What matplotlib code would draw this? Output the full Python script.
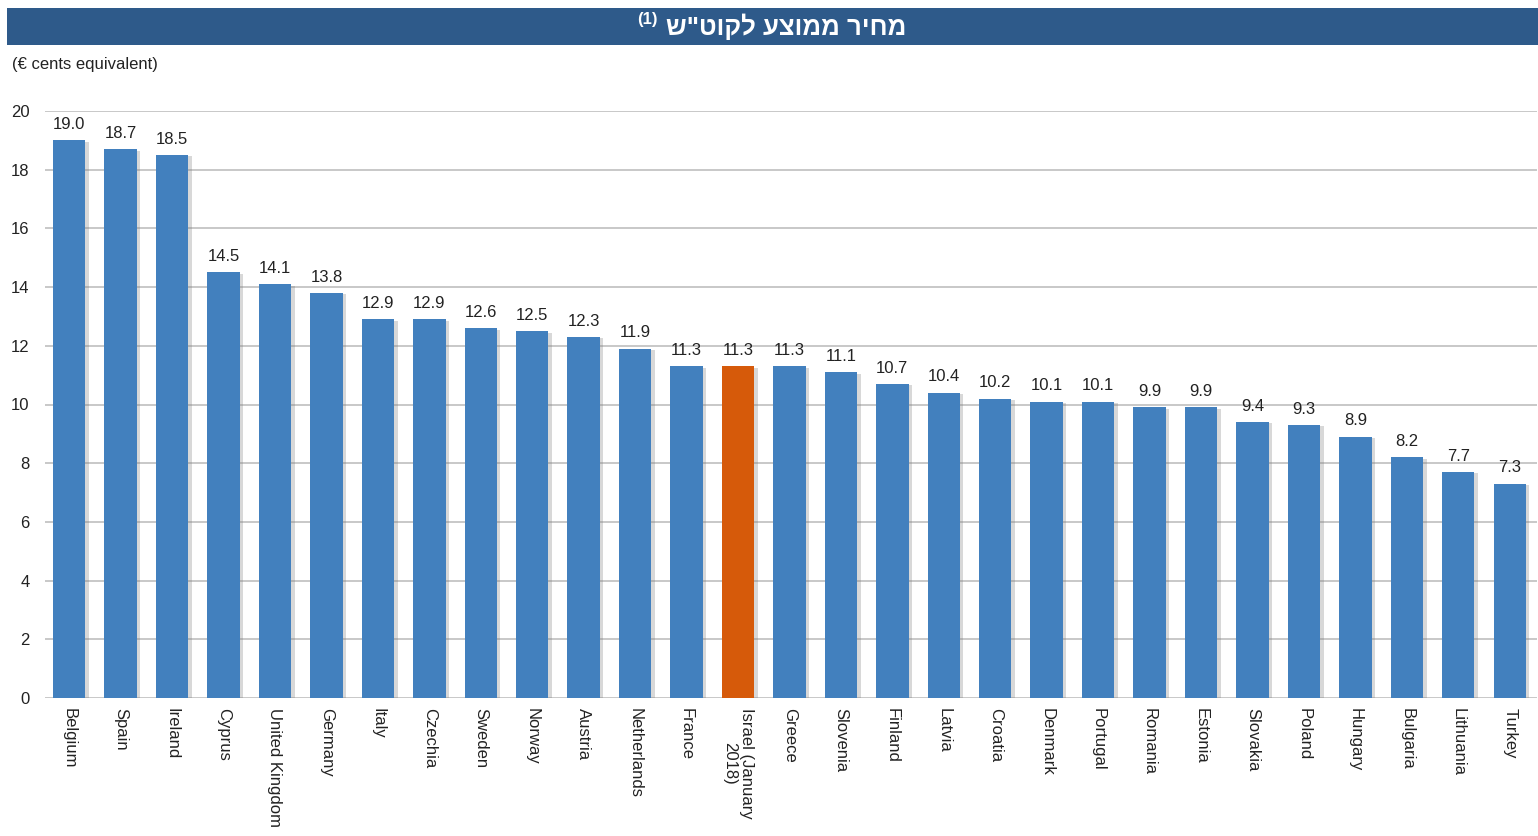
import numpy as np
import matplotlib.pyplot as plt
import matplotlib.patheffects as pe
from matplotlib.patches import Rectangle

plt.rcParams['font.family'] = ['Liberation Sans', 'DejaVu Sans']

# data
countries = ['Belgium', 'Spain', 'Ireland', 'Cyprus', 'United Kingdom', 'Germany',
             'Italy', 'Czechia', 'Sweden', 'Norway', 'Austria', 'Netherlands',
             'France', 'Israel (January\n2018)', 'Greece', 'Slovenia', 'Finland',
             'Latvia', 'Croatia', 'Denmark', 'Portugal', 'Romania', 'Estonia',
             'Slovakia', 'Poland', 'Hungary', 'Bulgaria', 'Lithuania', 'Turkey']
prices = [19.0, 18.7, 18.5, 14.5, 14.1, 13.8, 12.9, 12.9, 12.6, 12.5, 12.3, 11.9,
          11.3, 11.3, 11.3, 11.1, 10.7, 10.4, 10.2, 10.1, 10.1, 9.9, 9.9, 9.4,
          9.3, 8.9, 8.2, 7.7, 7.3]
highlight = 'Israel (January\n2018)'
yticks = [0, 2, 4, 6, 8, 10, 12, 14, 16, 18, 20]

title_he = 'מחיר ממוצע לקוט"ש'
subtitle = '(€ cents equivalent)'

blue = '#4280BE'
orange = '#D65A0A'
txt = '#222222'
fs = 12

W, H = 1538, 836
fig = plt.figure(figsize=(W / 100, H / 100), dpi=100)
ax = fig.add_axes([45 / W, 1 - 698 / H, (1537 - 45) / W, (698 - 111) / H])

x = np.arange(len(countries))
colors = [orange if c == highlight else blue for c in countries]
bars = ax.bar(x, prices, width=0.63, color=colors, zorder=3)
for b in bars:
    b.set_path_effects([pe.SimplePatchShadow(offset=(2.5, -1), alpha=0.3,
                                             shadow_rgbFace='#808080'),
                        pe.Normal()])

for xi, v in zip(x, prices):
    ax.annotate(f'{v:.1f}', xy=(xi, v), xytext=(0, 6), textcoords='offset points',
                ha='center', va='bottom', fontsize=fs, color=txt)

ax.set_xlim(-0.47, 28.53)
ax.set_ylim(0, 20)
ax.set_yticks(yticks)
ax.set_xticks(x)
ax.set_xticklabels(countries, rotation=-90, fontsize=fs, color=txt,
                   multialignment='center')
ax.tick_params(axis='both', length=0, labelsize=fs, colors=txt)
ax.tick_params(axis='y', pad=11)
ax.tick_params(axis='x', pad=7)
ax.grid(axis='y', color='#C4C4C4', linewidth=1.3, zorder=0)
for s in ax.spines.values():
    s.set_visible(False)

# header banner
fig.patches.append(Rectangle((7 / W, 1 - 45 / H), 1 - 7 / W, 37 / H,
                             transform=fig.transFigure, facecolor='#2E5A8A',
                             edgecolor='none', zorder=0))
# Hebrew is laid out right to left, so reverse it for drawing
t = fig.text(786 / W, 1 - 27 / H, title_he[::-1], ha='center', va='center',
             fontsize=18.5, fontweight='bold', color='white')
fig.canvas.draw()
bb = t.get_window_extent().transformed(fig.transFigure.inverted())
fig.text(bb.x0 - 8 / W, bb.y1 + 2 / H, '(1)', ha='right', va='top',
         fontsize=12, fontweight='bold', color='white')

fig.text(12 / W, 1 - 65 / H, subtitle, ha='left', va='center', fontsize=fs,
         color=txt)

fig.savefig('out.png', dpi=100)
